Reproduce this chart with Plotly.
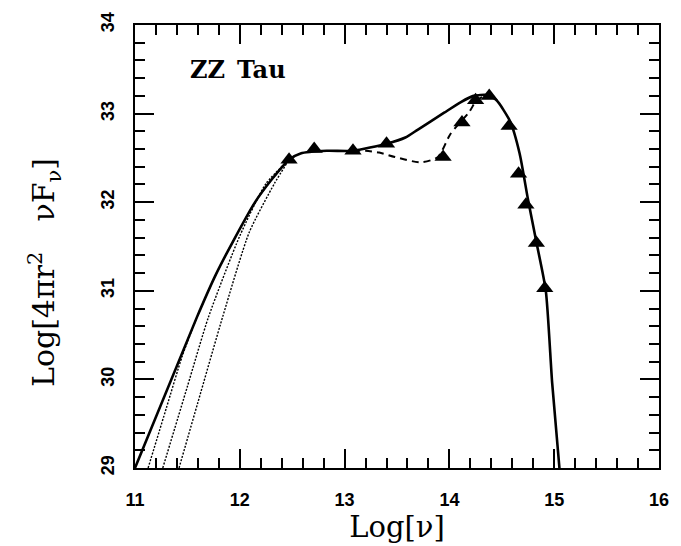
import plotly.graph_objects as go

# Observed SED points (log frequency, log luminosity)
obs_lognu = [12.47, 12.71, 13.08, 13.40, 13.94, 14.12, 14.25, 14.38, 14.57, 14.66, 14.73, 14.83, 14.91]
obs_logL = [32.48, 32.60, 32.58, 32.66, 32.51, 32.90, 33.15, 33.20, 32.86, 32.32, 31.97, 31.54, 31.03]

# Total model SED (solid)
model_lognu = [11.00, 11.59, 11.77, 11.95, 12.14, 12.30, 12.47, 12.58, 12.83, 13.08, 13.40, 13.58,
               13.70, 13.95, 14.11, 14.23, 14.36, 14.45, 14.58, 14.67, 14.75, 14.83, 14.92, 14.98, 15.05]
model_logL = [29.00, 30.70, 31.18, 31.59, 31.99, 32.25, 32.48, 32.55, 32.58, 32.58, 32.66, 32.73,
              32.82, 33.01, 33.13, 33.20, 33.21, 33.15, 32.91, 32.55, 32.03, 31.55, 31.00, 29.97, 29.00]

# Alternative model in the near-IR (dashed)
alt_lognu = [13.08, 13.20, 13.33, 13.48, 13.73, 13.89, 14.01, 14.19, 14.26, 14.36]
alt_logL = [32.58, 32.58, 32.56, 32.51, 32.45, 32.51, 32.77, 33.02, 33.15, 33.21]

# Submillimetre tails for other disk parameters (dotted)
tail1_lognu = [11.125, 11.30, 11.45, 11.59, 11.77, 11.95, 12.14, 12.30, 12.47]
tail1_logL = [29.00, 29.68, 30.26, 30.70, 31.18, 31.59, 31.99, 32.25, 32.48]
tail2_lognu = [11.265, 11.50, 11.70, 12.00, 12.25, 12.47]
tail2_logL = [29.00, 29.92, 30.70, 31.62, 32.21, 32.48]
tail3_lognu = [11.42, 11.60, 11.84, 12.09, 12.33, 12.47]
tail3_logL = [29.00, 29.74, 30.72, 31.66, 32.21, 32.48]

x_ticks = [11, 12, 13, 14, 15, 16]
y_ticks = [29, 30, 31, 32, 33, 34]

fig = go.Figure()

for tx, ty in [(tail1_lognu, tail1_logL), (tail2_lognu, tail2_logL), (tail3_lognu, tail3_logL)]:
    fig.add_trace(go.Scatter(x=tx, y=ty, mode="lines",
                             line=dict(color="black", width=1.4, dash="2px,1.5px", shape="spline", smoothing=0.6),
                             showlegend=False, hoverinfo="skip"))

fig.add_trace(go.Scatter(x=alt_lognu, y=alt_logL, mode="lines",
                         line=dict(color="black", width=2, dash="7px,5px", shape="spline", smoothing=0.7),
                         showlegend=False))

fig.add_trace(go.Scatter(x=model_lognu, y=model_logL, mode="lines",
                         line=dict(color="black", width=2.6, shape="spline", smoothing=0.6),
                         showlegend=False))

fig.add_trace(go.Scatter(x=obs_lognu, y=obs_logL, mode="markers",
                         marker=dict(symbol="triangle-up", size=15, color="black"),
                         showlegend=False))

fig.add_annotation(x=0.101, y=0.90, xref="paper", yref="paper", text="ZZ\u2002Tau",
                   showarrow=False, xanchor="left", yanchor="middle",
                   font=dict(family="DejaVu Serif", size=24, color="black", weight="bold"))

# y-axis title, placed as rotated text to the left of the tick labels
fig.add_annotation(x=-0.174, y=0.442, xref="paper", yref="paper",
                   text="Log[4πr<sup>2</sup>\u2003νF<sub>ν</sub>]", textangle=-90,
                   showarrow=False, xanchor="center", yanchor="middle",
                   font=dict(family="DejaVu Serif", size=30, color="black"))

axis_common = dict(
    showgrid=False, zeroline=False, showline=True, linecolor="black", linewidth=2,
    mirror="ticks", ticks="inside", ticklen=19, tickwidth=2, tickcolor="black",
    tickfont=dict(family="Liberation Sans", size=18, color="black", weight="bold"),
)

fig.update_xaxes(range=[11, 16], tickvals=x_ticks, ticktext=[str(v) for v in x_ticks],
                 minor=dict(ticks="inside", ticklen=10, tickwidth=2, dtick=0.2, tick0=11, tickcolor="black"),
                 ticklabelstandoff=14,
                 title=dict(text="Log[ν]", font=dict(family="DejaVu Serif", size=29, color="black"), standoff=4),
                 **axis_common)
fig.update_yaxes(range=[29, 34], tickvals=y_ticks, ticktext=[str(v) for v in y_ticks],
                 minor=dict(ticks="inside", ticklen=10, tickwidth=2, dtick=0.2, tick0=29, tickcolor="black"),
                 tickangle=-90, ticklabelstandoff=12,
                 **axis_common)

fig.update_layout(width=681, height=546, margin=dict(l=135, r=12, t=22, b=72),
                  paper_bgcolor="white", plot_bgcolor="white")

fig.write_html("out.html")
